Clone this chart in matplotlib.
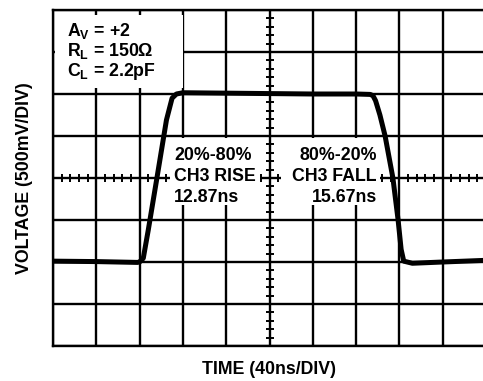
import numpy as np
import matplotlib
matplotlib.use('Agg')
import matplotlib.pyplot as plt
from matplotlib.patches import Rectangle

plt.rcParams['font.family'] = ['Liberation Sans', 'DejaVu Sans']
plt.rcParams['font.weight'] = 'bold'
plt.rcParams['mathtext.fontset'] = 'custom'
plt.rcParams['mathtext.rm'] = 'Liberation Sans'
plt.rcParams['mathtext.bf'] = 'Liberation Sans:bold'

# scope trace, time in ns, output in V (0 V = baseline)
time_ns = [0, 40, 78, 80, 83.4, 88, 96, 104.8, 110, 114, 120, 160, 200, 240, 280, 293,
           295.6, 298, 302, 306.8, 314, 318.8, 321.6, 324, 332, 360, 400]
volts = [0.01, 0.005, -0.005, 0.0, 0.045, 0.38, 1.0, 1.69, 1.95, 2.0, 2.015, 2.01, 2.005, 2.0, 2.0, 1.995,
         1.98, 1.92, 1.75, 1.5, 1.0, 0.5, 0.15, 0.01, -0.015, 0.0, 0.02]

ns_per_div = 40
v_per_div = 0.5
n_xdiv = 10
n_ydiv = 8
y_bottom = -1.0

conditions = [r'$\mathbf{A_V}$ = +2', r'$\mathbf{R_L}$ = 150$\mathrm{\Omega}$', r'$\mathbf{C_L}$ = 2.2pF']
rise_text = ['20%-80%', 'CH3 RISE', '12.87ns']
fall_text = ['80%-20%', 'CH3 FALL', '15.67ns']

fig = plt.figure(figsize=(4.83, 3.81), dpi=100)
ax = fig.add_axes([53 / 483, 35 / 381, 433 / 483, 336 / 381])

x_max = ns_per_div * n_xdiv
y_top = y_bottom + v_per_div * n_ydiv
ax.set_xlim(0, x_max)
ax.set_ylim(y_bottom, y_top)
ax.set_xticks(np.arange(0, x_max + 1, ns_per_div))
ax.set_yticks(np.arange(y_bottom, y_top + 0.01, v_per_div))
ax.tick_params(length=0, labelbottom=False, labelleft=False)
ax.grid(True, color='black', linewidth=1.7, zorder=1)
ax.set_axisbelow(True)
for s in ax.spines.values():
    s.set_linewidth(1.7)

# minor ticks along the centre cross
x_mid = x_max / 2
y_mid = (y_bottom + y_top) / 2
tx = np.arange(0, x_max + 0.1, ns_per_div / 5)
ty = np.arange(y_bottom, y_top + 0.01, v_per_div / 5)
ax.plot(tx, np.full_like(tx, y_mid), ls='none', marker='|', ms=6, mew=1.4, color='black', zorder=2)
ax.plot(np.full_like(ty, x_mid), ty, ls='none', marker='_', ms=6, mew=1.4, color='black', zorder=2)

# white panels behind the annotations
for x0, x1, y0, y1 in [(1.8, 120, 2.07, 2.94), (108, 191, 0.68, 1.48), (211, 302, 0.68, 1.48)]:
    ax.add_patch(Rectangle((x0, y0), x1 - x0, y1 - y0, facecolor='white', edgecolor='none', zorder=3))

fs = 12.8
ax.text(12.9, 2.87, '\n'.join(conditions), fontsize=fs, fontweight='bold', ha='left', va='top',
        linespacing=1.0, zorder=4)
for txt, yv in zip(rise_text, [1.21, 0.96, 0.71]):
    ax.text(112, yv, txt, fontsize=fs, fontweight='bold', ha='left', va='baseline', zorder=4)
for txt, yv in zip(fall_text, [1.21, 0.96, 0.71]):
    ax.text(299, yv, txt, fontsize=fs, fontweight='bold', ha='right', va='baseline', zorder=4)

ax.plot(time_ns, volts, color='black', linewidth=3.6, solid_joinstyle='round', solid_capstyle='round', zorder=5)

fig.text(25 / 483, 1 - 178 / 381, 'VOLTAGE (500mV/DIV)', rotation=90, fontsize=fs, fontweight='bold',
         ha='center', va='center')
fig.text(269.5 / 483, 1 - 370 / 381, 'TIME (40ns/DIV)', fontsize=fs, fontweight='bold', ha='center', va='center')

fig.savefig('out.png', dpi=100)
